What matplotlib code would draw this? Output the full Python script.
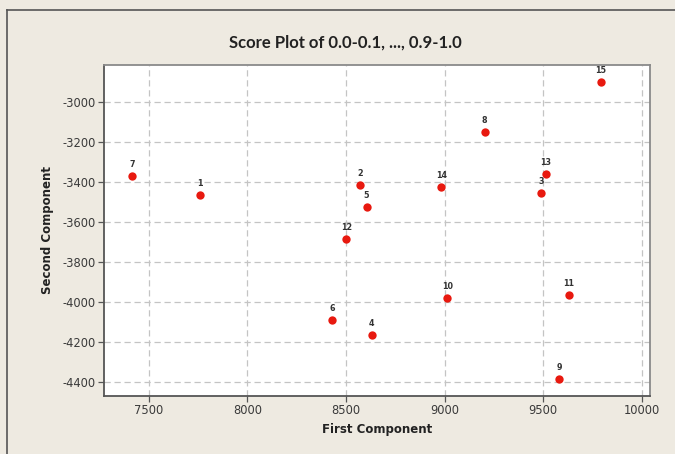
import matplotlib
matplotlib.use("Agg")
import matplotlib.pyplot as plt
from matplotlib.lines import Line2D

plt.rcParams["axes.unicode_minus"] = False

labels = ["1", "2", "3", "4", "5", "6", "7", "8", "9", "10", "11", "12", "13", "14", "15"]
first = [7757, 8570, 9491, 8630, 8604, 8430, 7416, 9203, 9580, 9014, 9630, 8502, 9515, 8983, 9793]
second = [-3465, -3412, -3454, -4162, -3522, -4090, -3370, -3147, -4383, -3980, -3962, -3682, -3358, -3424, -2897]
xticks = [7500, 8000, 8500, 9000, 9500, 10000]
yticks = [-4400, -4200, -4000, -3800, -3600, -3400, -3200, -3000]

bg = "#EEEAE1"
fig = plt.figure(figsize=(6.75, 4.54), dpi=100, facecolor=bg)
ax = fig.add_axes([104/675, 1-395.7/454, (650-104)/675, (395.7-64.7)/454])
ax.set_facecolor("white")

ax.set_xlim(7272, 10042)
ax.set_ylim(-4467, -2811)
ax.set_xticks(xticks)
ax.set_yticks(yticks)
ax.grid(True, color="#C4C4C4", linestyle=(0, (5, 3)), linewidth=0.9)
ax.set_axisbelow(True)

ax.plot(first, second, "o", color="#E8190F", markersize=6, markeredgewidth=0, zorder=3)
for lab, x, y in zip(labels, first, second):
    ax.annotate(lab, (x, y), xytext=(0, 5), textcoords="offset points",
                ha="center", va="bottom", fontsize=5.8, fontweight="bold", color="#333333")

for s in ["left", "bottom"]:
    ax.spines[s].set_color("#555555")
    ax.spines[s].set_linewidth(1.3)
for s in ["top", "right"]:
    ax.spines[s].set_color("#8A8A8A")
    ax.spines[s].set_linewidth(1.3)

ax.tick_params(axis="both", direction="out", length=4, width=0.9, color="#555555",
               labelsize=8.3, labelcolor="#3A3A3A", pad=2)

ax.set_xlabel("First Component", fontsize=8.5, fontweight="bold", color="#222222", labelpad=4)
ax.set_ylabel("Second Component", fontsize=8.5, fontweight="bold", color="#222222", labelpad=6)
fig.text(345/675, 1-43/454, "Score Plot of 0.0-0.1, ..., 0.9-1.0", ha="center", va="center",
         fontsize=12, fontweight="bold", family="Lato", color="#222222")

fig.add_artist(Line2D([7/675, 7/675], [0, 1-10/454], transform=fig.transFigure, color="#555555", linewidth=1.2))
fig.add_artist(Line2D([7/675, 1], [1-10/454, 1-10/454], transform=fig.transFigure, color="#555555", linewidth=1.2))

fig.savefig("out.png", dpi=100, facecolor=bg)
